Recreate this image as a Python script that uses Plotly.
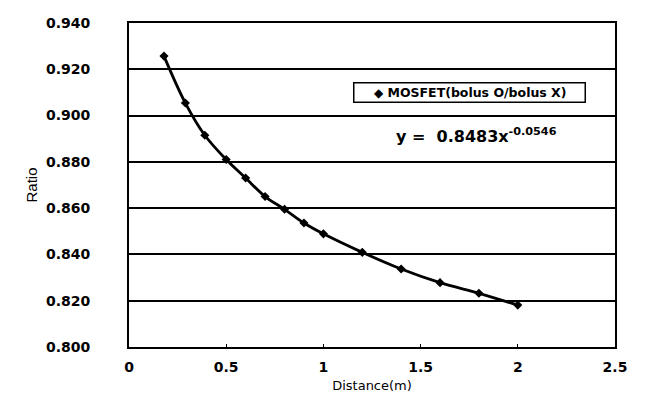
import plotly.graph_objects as go

distance = [0.18, 0.29, 0.39, 0.5, 0.6, 0.7, 0.8, 0.9, 1.0, 1.2, 1.4, 1.6, 1.8, 2.0]
ratio = [0.9257, 0.9054, 0.8915, 0.881, 0.873, 0.865, 0.8595, 0.8536, 0.8489,
         0.8409, 0.8337, 0.8278, 0.8232, 0.8181]
series_name = "MOSFET(bolus O/bolus X)"
equation_text = "y&nbsp;=&nbsp;&nbsp;0.8483x<sup>-0.0546</sup>"
y_ticks = [0.80, 0.82, 0.84, 0.86, 0.88, 0.90, 0.92, 0.94]
x_ticks = [0, 0.5, 1, 1.5, 2, 2.5]

BOLD = "DejaVu Sans, Verdana, sans-serif"
PLAIN = "DejaVu Sans, Verdana, sans-serif"

# page has an 8px body margin: plot area spans x 129..615, y 15..347 in the page
PL, PR, PT, PB = 129, 615, 15, 347
def px(x):
    return (x - PL) / (PR - PL)
def py(y):
    return (PB - y) / (PB - PT)

fig = go.Figure()
fig.add_trace(go.Scatter(
    x=distance, y=ratio, mode="lines",
    line=dict(color="black", width=2.8, shape="spline"),
    showlegend=False, hoverinfo="skip"))
fig.add_trace(go.Scatter(
    x=distance, y=ratio, mode="markers", name=series_name, showlegend=False,
    marker=dict(symbol="diamond", size=7, color="black")))

# legend box
fig.add_annotation(
    xref="paper", yref="paper", x=px(353), y=py(86),
    xanchor="left", yanchor="middle", showarrow=False,
    text="&nbsp;&nbsp;&nbsp;&nbsp;<span style='font-size:12px'>◆</span>&nbsp;" + series_name,
    width=226, height=14, align="left", valign="middle",
    bordercolor="black", borderwidth=1.5, borderpad=2, bgcolor="white",
    font=dict(family=BOLD, size=12.5, color="black", weight="bold"))

# trendline equation
fig.add_annotation(
    xref="paper", yref="paper", x=px(394), y=py(130),
    xanchor="left", yanchor="middle", text=equation_text, showarrow=False,
    font=dict(family=BOLD, size=16, color="black", weight="bold"))

fig.update_layout(
    width=639, height=393,
    margin=dict(l=121, r=32, t=7, b=54),
    paper_bgcolor="white", plot_bgcolor="white",
    font=dict(family=PLAIN, color="black"),
    xaxis=dict(
        range=[0, 2.5], tickvals=x_ticks, ticktext=[f"{v:g}" for v in x_ticks],
        ticks="inside", ticklen=3, tickcolor="black",
        showgrid=False, zeroline=False,
        showline=True, linecolor="black", linewidth=2, mirror=True,
        tickfont=dict(family=BOLD, size=14, color="black", weight="bold"),
        ticklabelstandoff=6,
        title=dict(text="Distance(m)", font=dict(family=PLAIN, size=13, color="black"), standoff=7),
    ),
    yaxis=dict(
        range=[0.80, 0.94], tickvals=y_ticks, ticktext=[f"{v:.3f}" for v in y_ticks],
        ticks="", showgrid=True, gridcolor="black", gridwidth=1.8, zeroline=False,
        showline=True, linecolor="black", linewidth=2, mirror=True,
        tickfont=dict(family=BOLD, size=14, color="black", weight="bold"),
        ticklabelstandoff=34,
        title=dict(text="Ratio", font=dict(family="Liberation Sans Narrow, Liberation Sans, Arial", size=15, color="black"), standoff=5),
    ),
)

fig.write_html("out.html")
